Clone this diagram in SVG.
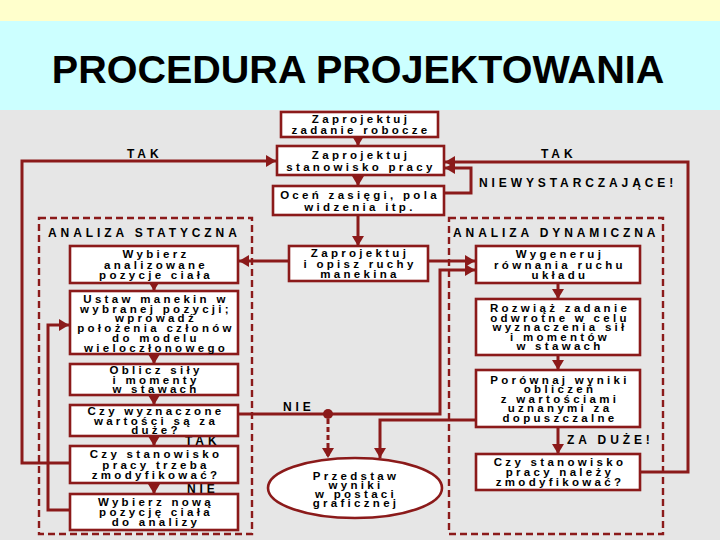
<svg xmlns="http://www.w3.org/2000/svg" width="720" height="540" viewBox="0 0 720 540">
<defs>
<style>
.box{fill:#ffffff;stroke:#8b1a1a;stroke-width:2.6}
.reg{fill:none;stroke:#8b1a1a;stroke-width:2.4;stroke-dasharray:7 4}
.ln{fill:none;stroke:#8b1a1a;stroke-width:3}
.t{font-family:"Liberation Sans",Arial,sans-serif;font-weight:bold;font-size:11.5px;letter-spacing:3.3px;text-anchor:middle;fill:#000}
.lb{font-family:"Liberation Sans",Arial,sans-serif;font-weight:bold;font-size:12px;letter-spacing:3.9px;fill:#000}
</style>
<marker id="ah" markerUnits="userSpaceOnUse" markerWidth="10" markerHeight="12" refX="10" refY="6" orient="auto">
<path d="M0,0 L10,6 L0,12 z" fill="#8b1a1a"/>
</marker>
</defs>
<rect x="0" y="0" width="720" height="540" fill="#e6e6e6"/>
<rect x="0" y="0" width="720" height="21" fill="#ffffcc"/>
<rect x="0" y="21" width="720" height="89" fill="#ccffff"/>
<text x="358" y="83" font-family="Liberation Sans,Arial,sans-serif" font-weight="bold" font-size="39.5" text-anchor="middle" fill="#000">PROCEDURA PROJEKTOWANIA</text>

<g id="region-static">
<rect class="reg" x="39" y="218" width="213" height="316"/>
<text class="lb" x="48" y="237">ANALIZA STATYCZNA</text>
</g>
<g id="region-dynamic">
<rect class="reg" x="449" y="218" width="214" height="316"/>
<text class="lb" x="453" y="237">ANALIZA DYNAMICZNA</text>
</g>

<g id="connectors">
<path class="ln" d="M358,138 V146" marker-end="url(#ah)"/>
<path class="ln" d="M358,175 V186" marker-end="url(#ah)"/>
<path class="ln" d="M358,215 V246" marker-end="url(#ah)"/>
<path class="ln" d="M289,261 H239" marker-end="url(#ah)"/>
<path class="ln" d="M428,261 H475" marker-end="url(#ah)"/>
<path class="ln" d="M239,414 H440 V270 H475" marker-end="url(#ah)"/>
<circle cx="328" cy="414" r="5" fill="#8b1a1a"/>
<path class="ln" d="M328,419 V458" stroke-dasharray="5 3" marker-end="url(#ah)"/>
<path class="ln" d="M476,420 H380 V458" marker-end="url(#ah)"/>
<path class="ln" d="M154,283 V291" marker-end="url(#ah)"/>
<path class="ln" d="M154,354 V364" marker-end="url(#ah)"/>
<path class="ln" d="M154,395 V405" marker-end="url(#ah)"/>
<path class="ln" d="M154,436 V446" marker-end="url(#ah)"/>
<path class="ln" d="M154,483 V494" marker-end="url(#ah)"/>
<path class="ln" d="M70,463 H22 V161 H276" marker-end="url(#ah)"/>
<path class="ln" d="M70,510 H48 V325 H69" marker-end="url(#ah)"/>
<path class="ln" d="M558,283 V299" marker-end="url(#ah)"/>
<path class="ln" d="M558,355 V370" marker-end="url(#ah)"/>
<path class="ln" d="M558,427 V454" marker-end="url(#ah)"/>
<path class="ln" d="M641,472 H688 V162 H445" marker-end="url(#ah)"/>
<path class="ln" d="M444,193 H471 V168 H445" marker-end="url(#ah)"/>
<text class="lb" x="127" y="158">TAK</text>
<text class="lb" x="541" y="158">TAK</text>
<text class="lb" x="479" y="187">NIEWYSTARCZAJĄCE!</text>
<text class="lb" x="185" y="445">TAK</text>
<text class="lb" x="187" y="493">NIE</text>
<text class="lb" x="283" y="411">NIE</text>
<text class="lb" x="567" y="444">ZA DUŻE!</text>
</g>

<g id="b1">
<rect class="box" x="281" y="112" width="157" height="25"/>
<text class="t"><tspan x="361" y="123">Zaprojektuj</tspan><tspan x="361" y="134">zadanie robocze</tspan></text>
</g>
<g id="b2">
<rect class="box" x="277" y="146" width="167" height="29"/>
<text class="t"><tspan x="361" y="158.5">Zaprojektuj</tspan><tspan x="361" y="170.5">stanowisko pracy</tspan></text>
</g>
<g id="b3">
<rect class="box" x="273" y="186" width="171" height="29"/>
<text class="t"><tspan x="360" y="198.5">Oceń zasięgi, pola</tspan><tspan x="360" y="210.5">widzenia itp.</tspan></text>
</g>
<g id="b4">
<rect class="box" x="289" y="246" width="139" height="35"/>
<text class="t"><tspan x="360" y="257">Zaprojektuj</tspan><tspan x="360" y="267.5">i opisz ruchy</tspan><tspan x="360" y="278">manekina</tspan></text>
</g>

<g id="l1">
<rect class="box" x="70" y="246" width="168" height="37"/>
<text class="t"><tspan x="156" y="258">Wybierz</tspan><tspan x="156" y="268.5">analizowane</tspan><tspan x="156" y="279">pozycje ciała</tspan></text>
</g>
<g id="l2">
<rect class="box" x="70" y="291" width="168" height="63"/>
<text class="t"><tspan x="156" y="302.7">Ustaw manekin w</tspan><tspan x="156" y="312.5">wybranej pozycji;</tspan><tspan x="156" y="322.3">wprowadź</tspan><tspan x="156" y="332.1">położenia członów</tspan><tspan x="156" y="341.9">do modelu</tspan><tspan x="156" y="351.7">wieloczłonowego</tspan></text>
</g>
<g id="l3">
<rect class="box" x="70" y="364" width="168" height="31"/>
<text class="t"><tspan x="156" y="374">Oblicz siły</tspan><tspan x="156" y="383.5">i momenty</tspan><tspan x="156" y="393">w stawach</tspan></text>
</g>
<g id="l4">
<rect class="box" x="70" y="405" width="168" height="31"/>
<text class="t"><tspan x="156" y="415">Czy wyznaczone</tspan><tspan x="156" y="424.5">wartości są za</tspan><tspan x="156" y="434">duże?</tspan></text>
</g>
<g id="l5">
<rect class="box" x="70" y="446" width="168" height="37"/>
<text class="t"><tspan x="156" y="458">Czy stanowisko</tspan><tspan x="156" y="468.5">pracy trzeba</tspan><tspan x="156" y="479">zmodyfikować?</tspan></text>
</g>
<g id="l6">
<rect class="box" x="70" y="494" width="168" height="36"/>
<text class="t"><tspan x="156" y="506">Wybierz nową</tspan><tspan x="156" y="516">pozycję ciała</tspan><tspan x="156" y="526">do analizy</tspan></text>
</g>

<g id="r1">
<rect class="box" x="476" y="246" width="164" height="37"/>
<text class="t"><tspan x="560" y="258">Wygeneruj</tspan><tspan x="560" y="268.5">równania ruchu</tspan><tspan x="560" y="279">układu</tspan></text>
</g>
<g id="r2">
<rect class="box" x="476" y="299" width="164" height="56"/>
<text class="t"><tspan x="560" y="312">Rozwiąż zadanie</tspan><tspan x="560" y="321.6">odwrotne w celu</tspan><tspan x="560" y="331.2">wyznaczenia sił</tspan><tspan x="560" y="340.8">i momentów</tspan><tspan x="560" y="350.4">w stawach</tspan></text>
</g>
<g id="r3">
<rect class="box" x="476" y="370" width="164" height="57"/>
<text class="t"><tspan x="560" y="383.5">Porównaj wyniki</tspan><tspan x="560" y="393.1">obliczeń</tspan><tspan x="560" y="402.7">z wartościami</tspan><tspan x="560" y="412.3">uznanymi za</tspan><tspan x="560" y="421.9">dopuszczalne</tspan></text>
</g>
<g id="r4">
<rect class="box" x="476" y="454" width="164" height="36"/>
<text class="t"><tspan x="560" y="466">Czy stanowisko</tspan><tspan x="560" y="476">pracy należy</tspan><tspan x="560" y="486">zmodyfikować?</tspan></text>
</g>

<g id="result">
<ellipse cx="355" cy="488" rx="87" ry="30" fill="#ffffff" stroke="#8b1a1a" stroke-width="2.6"/>
<text class="t"><tspan x="356" y="480">Przedstaw</tspan><tspan x="356" y="489">wyniki</tspan><tspan x="356" y="498">w postaci</tspan><tspan x="356" y="507">graficznej</tspan></text>
</g>
</svg>
